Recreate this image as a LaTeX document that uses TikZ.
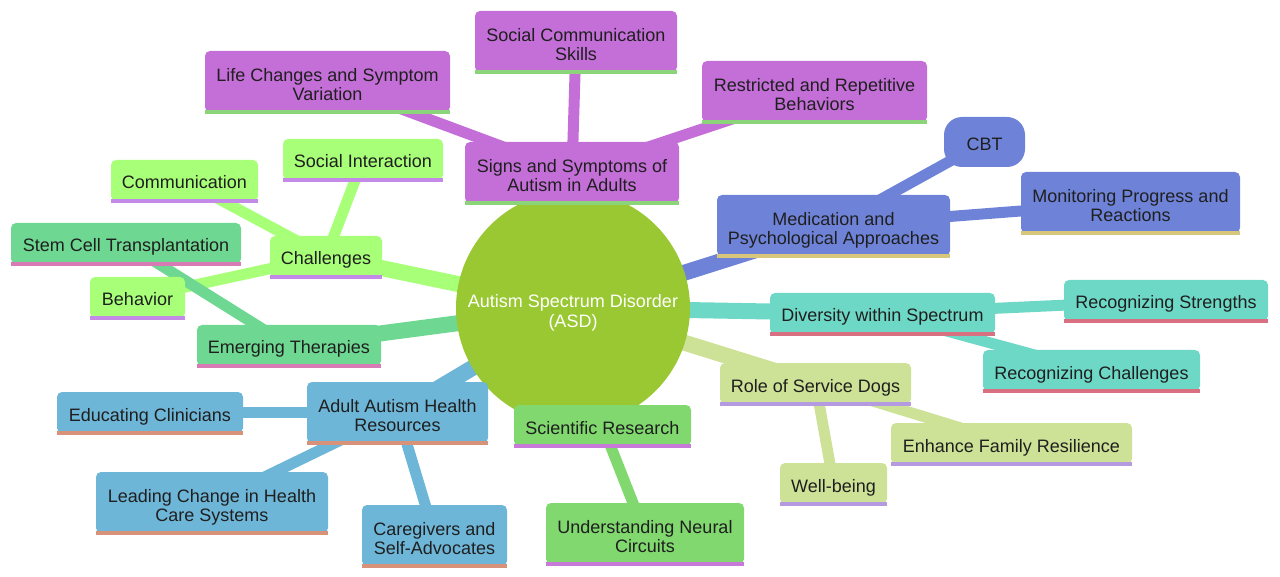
\documentclass[tikz,border=0pt]{standalone}
\usepackage{fontspec}
\setmainfont{Liberation Sans}
\usetikzlibrary{backgrounds}

% section colours
\definecolor{rootC}{RGB}{154,200,50}
\definecolor{symC}{RGB}{196,110,216}
\definecolor{medC}{RGB}{110,131,216}
\definecolor{divC}{RGB}{110,216,198}
\definecolor{dogC}{RGB}{205,226,150}
\definecolor{sciC}{RGB}{128,216,110}
\definecolor{resC}{RGB}{110,182,216}
\definecolor{emtC}{RGB}{110,216,146}
\definecolor{chaC}{RGB}{168,255,120}
% underline colours
\definecolor{symB}{RGB}{140,212,122}
\definecolor{medB}{RGB}{216,198,122}
\definecolor{divB}{RGB}{216,112,130}
\definecolor{dogB}{RGB}{180,154,224}
\definecolor{sciB}{RGB}{200,122,216}
\definecolor{resB}{RGB}{216,146,122}
\definecolor{emtB}{RGB}{216,122,180}
\definecolor{chaB}{RGB}{196,138,232}

\begin{document}
\begin{tikzpicture}[x=1pt, y=-1pt, line cap=butt, line join=round]
	\useasboundingbox (0,0) rectangle (1280,577);
	
	%======================
	% STYLES
	%======================
	\tikzset{
		lowtext/.style={font=\fontsize{18}{19.4}\selectfont,
			execute at begin node={\rule{0pt}{21pt}},
			execute at end node={\rule[-4pt]{0pt}{4pt}}},
		box/.style={rectangle, rounded corners=5pt, fill=#1, text=black!88, align=center,
			inner sep=0pt, lowtext},
		dims/.style={minimum width=#1pt, minimum height=41pt},
		tall/.style={minimum height=61pt, execute at begin node={\rule{0pt}{42pt}}},
		rootnode/.style={circle, fill=rootC, text=white, align=center, inner sep=0pt,
			minimum size=234pt, lowtext, execute at begin node={\rule{0pt}{42pt}}},
		link/.style={line width=16pt, #1},
		sublink/.style={line width=11pt, #1}
	}
	
	% root
	\node[rootnode] (asd) at (573,308) {Autism Spectrum Disorder\\(ASD)};
	
	% signs and symptoms
	\node[box=symC, dims=214, tall] (sym)  at (572,172.5) {Signs and Symptoms of\\Autism in Adults};
	\node[box=symC, dims=245, tall] (life) at (327.5,81.5) {Life Changes and Symptom\\Variation};
	\node[box=symC, dims=202, tall] (scs)  at (576,41.5) {Social Communication\\Skills};
	\node[box=symC, dims=225, tall] (rrb)  at (814.5,91.5) {Restricted and Repetitive\\Behaviors};
	
	% medication
	\node[box=medC, dims=233, tall] (med) at (833.5,225.5) {Medication and\\Psychological Approaches};
	\node[box=medC, dims=81, minimum height=50pt, rounded corners=18pt] (cbt) at (984.5,142) {CBT};
	\node[box=medC, dims=219, tall] (mon) at (1130.5,202.5) {Monitoring Progress and\\Reactions};
	
	% diversity
	\node[box=divC, dims=225] (div)  at (882.5,313.5) {Diversity within Spectrum};
	\node[box=divC, dims=204] (rstr) at (1166,300.5) {Recognizing Strengths};
	\node[box=divC, dims=217] (rchl) at (1091.5,370.5) {Recognizing Challenges};
	
	% service dogs
	\node[box=dogC, dims=191] (dog)  at (815.5,383.5) {Role of Service Dogs};
	\node[box=dogC, dims=241] (fam)  at (1011.5,443.5) {Enhance Family Resilience};
	\node[box=dogC, dims=107] (well) at (833.5,483.5) {Well-being};
	
	% research
	\node[box=sciC, dims=177] (sci) at (602.5,425.5) {Scientific Research};
	\node[box=sciC, dims=198, tall] (neu) at (645,533.5) {Understanding Neural\\Circuits};
	
	% health resources
	\node[box=resC, dims=181, tall] (res)  at (397.5,412.5) {Adult Autism Health\\Resources};
	\node[box=resC, dims=186] (edu)  at (150,412.5) {Educating Clinicians};
	\node[box=resC, dims=232, tall] (lead) at (212,502.5) {Leading Change in Health\\Care Systems};
	\node[box=resC, dims=145, tall] (care) at (434.5,535.5) {Caregivers and\\Self-Advocates};
	
	% therapies
	\node[box=emtC, dims=184] (emt)  at (289,345.5) {Emerging Therapies};
	\node[box=emtC, dims=230] (stem) at (126,243.5) {Stem Cell Transplantation};
	
	% challenges
	\node[box=chaC, dims=112] (cha)  at (326,256.5) {Challenges};
	\node[box=chaC, dims=147] (comm) at (184.5,180.5) {Communication};
	\node[box=chaC, dims=160] (sint) at (363,159.5) {Social Interaction};
	\node[box=chaC, dims=95]  (beh)  at (137.5,297.5) {Behavior};
	
	% underlines
	\foreach \n/\c in {sym/symB, life/symB, scs/symB, rrb/symB,
		med/medB, mon/medB, div/divB, rstr/divB, rchl/divB,
		dog/dogB, fam/dogB, well/dogB, sci/sciB, neu/sciB,
		res/resB, edu/resB, lead/resB, care/resB,
		emt/emtB, stem/emtB, cha/chaB, comm/chaB, sint/chaB, beh/chaB}
		\draw[line width=3.5pt, \c] (\n.south west) -- (\n.south east);
	
	%======================
	% BRANCHES
	%======================
	\begin{scope}[on background layer]
		\draw[link=symC] (asd.center) -- (sym.center);
		\draw[link=medC] (asd.center) -- (med.center);
		\draw[link=divC] (asd.center) -- (div.center);
		\draw[link=dogC] (asd.center) -- (dog.center);
		\draw[link=sciC] (asd.center) -- (sci.center);
		\draw[link=resC] (asd.center) -- (res.center);
		\draw[link=emtC] (asd.center) -- (emt.center);
		\draw[link=chaC] (asd.center) -- (cha.center);
		
		\draw[sublink=symC] (sym.center) -- (life.center);
		\draw[sublink=symC] (sym.center) -- (scs.center);
		\draw[sublink=symC] (sym.center) -- (rrb.center);
		\draw[sublink=medC] (med.center) -- (cbt.center);
		\draw[sublink=medC] (med.center) -- (mon.center);
		\draw[sublink=divC] (div.center) -- (rstr.center);
		\draw[sublink=divC] (div.center) -- (rchl.center);
		\draw[sublink=dogC] (dog.center) -- (fam.center);
		\draw[sublink=dogC] (dog.center) -- (well.center);
		\draw[sublink=sciC] (sci.center) -- (neu.center);
		\draw[sublink=resC] (res.center) -- (edu.center);
		\draw[sublink=resC] (res.center) -- (lead.center);
		\draw[sublink=resC] (res.center) -- (care.center);
		\draw[sublink=chaC] (cha.center) -- (comm.center);
		\draw[sublink=chaC] (cha.center) -- (sint.center);
		\draw[sublink=chaC] (cha.center) -- (beh.center);
		\draw[sublink=emtC] (emt.center) -- (stem.center);
	\end{scope}
\end{tikzpicture}
\end{document}
